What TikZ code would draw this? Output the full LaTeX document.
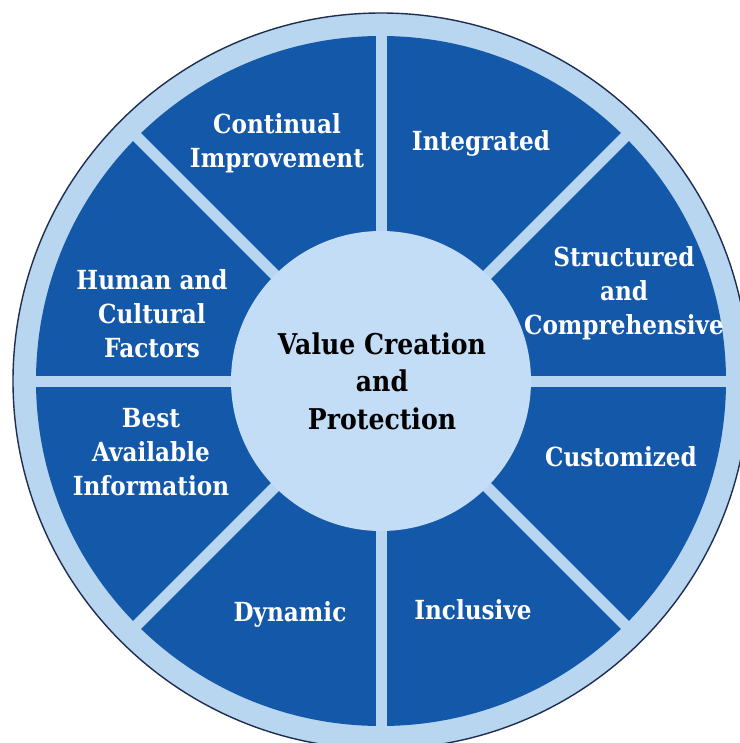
\documentclass[tikz,border=0pt]{standalone}
\usepackage{fontspec}
\setmainfont{DejaVu Serif}[FakeStretch=0.88]
\definecolor{segblue}{RGB}{20,88,170}
\definecolor{ringblue}{RGB}{184,214,240}
\definecolor{hubblue}{RGB}{194,221,245}
\definecolor{rimline}{RGB}{30,45,80}
\tikzset{
  seglabel/.style={text=white, align=center, inner sep=0pt,
    font=\bfseries\fontsize{26.3}{34}\selectfont},
  hublabel/.style={text=black, align=center, inner sep=0pt,
    font=\bfseries\fontsize{28.6}{37.5}\selectfont},
  spoke/.style={draw=ringblue, line width=11pt}
}
\begin{document}
\begin{tikzpicture}[x=1pt,y=-1pt]
\useasboundingbox (0,0) rectangle (739,743);
\fill[white] (0,0) rectangle (739,743);
\coordinate (c) at (381,381);
% outer ring
\fill[ringblue] (c) circle (368);
\draw[rimline, line width=1.4pt] (c) circle (368);
% blue disc
\fill[segblue] (c) circle (345);
% spokes
\foreach \a in {0,45,...,315}{
  \draw[spoke] (c) -- ++(\a:347);
}
% hub
\fill[hubblue] (c) circle (150);
% labels
\node[seglabel] (ci) at (277,143) {Continual\\Improvement};
\node[seglabel] (ig) at (481,143) {Integrated};
\node[seglabel] (sc) at (624,293) {Structured\\and\\Comprehensive};
\node[seglabel] (cu) at (621,457) {Customized};
\node[seglabel] (in) at (473,610) {Inclusive};
\node[seglabel] (dy) at (290,614) {Dynamic};
\node[seglabel] (ba) at (151,452) {Best\\Available\\Information};
\node[seglabel] (hc) at (152,314) {Human and\\Cultural\\Factors};
\node[hublabel] (hub) at (382,381) {Value Creation\\and\\Protection};
\end{tikzpicture}
\end{document}
